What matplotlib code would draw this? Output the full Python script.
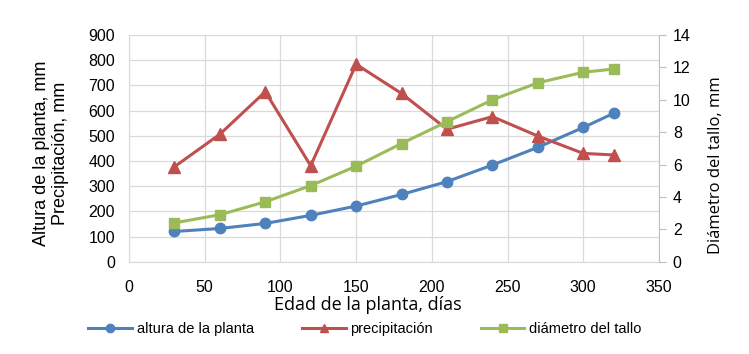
import matplotlib.pyplot as plt
import numpy as np

# edad de la planta (dias)
dias = [30, 60, 90, 120, 150, 180, 210, 240, 270, 300, 320]
altura = [120, 132, 152, 184, 221, 267, 318, 384, 454, 533, 589]
precipitacion = [377, 506, 675, 381, 784, 668, 526, 576, 499, 430, 424]
diametro = [2.4, 2.9, 3.7, 4.7, 5.9, 7.3, 8.65, 10.0, 11.05, 11.7, 11.9]

azul = '#4F81BD'
rojo = '#C0504D'
verde = '#9BBB59'
gris = '#D9D9D9'

plt.rcParams['font.family'] = ['Liberation Sans', 'DejaVu Sans']

fig = plt.figure(figsize=(7.49, 3.54), dpi=100)
ax = fig.add_axes([0.1722, 0.2607, 0.7076, 0.6403])
ax2 = ax.twinx()

l1, = ax.plot(dias, altura, color=azul, lw=2.2, marker='o', ms=7.5, label='altura de la planta')
l2, = ax.plot(dias, precipitacion, color=rojo, lw=2.2, marker='^', ms=8, label='precipitación')
l3, = ax2.plot(dias, diametro, color=verde, lw=2.2, marker='s', ms=7, label='diámetro del tallo')

ax.set_xlim(0, 350)
ax.set_ylim(0, 900)
ax2.set_ylim(0, 14)
ax.set_xticks(np.arange(0, 351, 50))
ax.set_yticks(np.arange(0, 901, 100))
ax2.set_yticks(np.arange(0, 15, 2))

ax.grid(True, color=gris, lw=0.9)
ax.set_axisbelow(True)
for a in (ax, ax2):
    for s in a.spines.values():
        s.set_visible(False)
ax.spines['left'].set_visible(True)
ax.spines['left'].set_color(gris)
ax.spines['bottom'].set_visible(True)
ax.spines['bottom'].set_color(gris)
ax2.spines['right'].set_visible(True)
ax2.spines['right'].set_color('#BFBFBF')

ax.tick_params(axis='y', length=0, labelsize=11.5, pad=10)
ax.tick_params(axis='x', length=0, labelsize=11.5, pad=13)
ax2.tick_params(axis='y', length=5, color='#BFBFBF', labelsize=11.5, pad=5)

ax.set_ylabel('Altura de la planta, mm\nPrecipitación, mm', fontsize=13, linespacing=1.15)
ax.yaxis.set_label_coords(-0.113, 0.48)
ax.set_xlabel('Edad de la planta, días', fontsize=13, family=['Open Sans', 'DejaVu Sans'])
ax.xaxis.set_label_coords(0.451, -0.15)
ax2.set_ylabel('Diámetro del tallo, mm', fontsize=12, family=['Open Sans', 'DejaVu Sans'])
ax2.yaxis.set_label_coords(1.092, 0.427)

fig.legend(handles=[l1, l2, l3], loc='center', bbox_to_anchor=(0.487, 0.07), ncol=3,
           frameon=False, handlelength=3.0, columnspacing=3.3, handletextpad=0.3,
           markerscale=0.8,
           prop={'family': ['Liberation Sans Narrow', 'Liberation Sans'], 'size': 10.5})

fig.savefig('out.png', dpi=100)
